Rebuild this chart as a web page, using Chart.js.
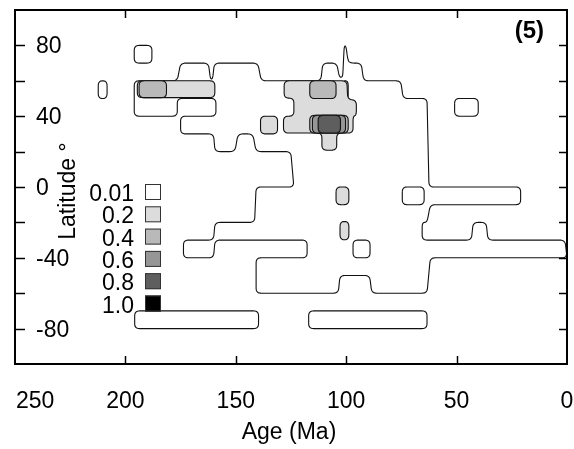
<!DOCTYPE html>
<html>
<head>
<meta charset="utf-8">
<script src="https://cdn.jsdelivr.net/npm/chart.js@4.4.1/dist/chart.umd.min.js"></script>
<style>
  body { margin: 0; background: #fff; }
  canvas { display: block; }
</style>
</head>
<body>
<canvas id="contourChart" width="574" height="449"></canvas>
<script>
const ageTicks = [250, 200, 150, 100, 50, 0];
const latLabels = [80, 40, 0, -40, -80];
const latMarks = [80, 60, 40, 20, 0, -20, -40, -60, -80];
const levelLabels = ["0.01", "0.2", "0.4", "0.6", "0.8", "1.0"];
const levelColors = ["#ffffff", "#dcdcdc", "#b9b9b9", "#969696", "#5e5e5e", "#000000"];

// contour outlines, [age Ma, latitude]
// level 0.01
const outer01 = [
  [196, 60], [176.5, 60], [175, 70], [162.4, 70], [161.5, 61], [160.5, 61], [159.7, 70], [140, 70], [138.5, 60],
  [111.5, 60], [110.6, 70], [104.3, 70], [103.1, 62], [101.6, 62], [100.9, 79.6], [100.1, 79.6], [99.3, 72], [98.3, 70],
  [93.2, 70], [92.1, 60], [75.3, 60], [74.2, 50], [63.4, 50], [62.5, 0], [21, 0], [21, -10], [61.9, -10],
  [63.4, -20], [65.6, -20], [65.6, -30], [43.3, -30], [42.5, -20], [36.6, -20], [35.8, -30], [0.9, -30], [0, -40],
  [61.9, -40], [63.4, -60], [88.4, -60], [89.4, -50], [102.8, -50], [103.6, -60], [140.8, -60], [140.8, -40],
  [117.7, -40], [117.7, -30], [159.4, -30], [160.1, -40], [173.7, -40], [173.7, -30], [160.1, -30], [159.4, -20],
  [141.5, -20], [140.8, 0], [123.7, 0], [125.1, 20], [140.8, 20], [142.3, 30], [149, 30], [150.4, 20], [159.4, 20],
  [160.1, 30], [175, 30], [175, 40], [159, 40], [159, 50], [176.5, 50], [176.5, 40], [196, 40]
];
const box01a = [[196, 80], [188, 80], [188, 70], [196, 70]];
const oval01 = [[212.3, 60], [208.3, 60], [208.3, 50], [212.3, 50]];
const box01b = [[50.9, 50], [40.2, 50], [40.2, 40], [50.9, 40]];
const box01c = [[74.6, 0], [64.7, 0], [64.7, -10], [74.6, -10]];
const box01d = [[96.9, -30], [89.2, -30], [89.2, -40], [96.9, -40]];
const box01e = [[195.8, -70], [139.7, -70], [139.7, -80], [195.8, -80]];
const box01f = [[117, -70], [63.4, -70], [63.4, -80], [117, -80]];

// level 0.2
const strip02 = [[194.6, 60], [159.5, 60], [159.5, 50.5], [194.6, 50.5]];
const blob02 = [
  [128.1, 60], [99.7, 60], [99.3, 49.5], [95.4, 49], [95.4, 40.5], [96.9, 40], [96.9, 30.5],
  [104.3, 30.5], [104.3, 20.8], [111, 20.8], [111, 30.5], [128.4, 30.5], [128.4, 40],
  [123.7, 40], [123.7, 50.2], [128.1, 50.2]
];
const box02a = [[138.8, 40], [131.1, 40], [131.1, 30], [138.8, 30]];
const box02b = [[104.6, 0], [98.8, 0], [98.8, -10], [104.6, -10]];
const box02c = [[102.8, -19.5], [98.8, -19.5], [98.8, -29.8], [102.8, -29.8]];
const oval02 = [[101.6, 60], [99.1, 60], [99.1, 49.3], [101.6, 49.3]];

// level 0.4
const strip04 = [[193.8, 60], [181.4, 60], [181.4, 50.5], [193.8, 50.5]];
const box04a = [[116.5, 60], [104.6, 60], [104.6, 50], [116.5, 50]];
const box04b = [[116.5, 40.5], [99.1, 40.5], [99.1, 30.5], [116.5, 30.5]];

// level 0.6
const box06 = [[115.3, 40.5], [100.3, 40.5], [100.3, 30.5], [115.3, 30.5]];

// level 0.8
const box08 = [[112.7, 40.5], [102.6, 40.5], [102.6, 30.5], [112.7, 30.5]];

const contours = [
  [outer01, 0], [box01a, 0], [oval01, 0], [box01b, 0], [box01c, 0], [box01d, 0], [box01e, 0], [box01f, 0],
  [strip02, 1], [blob02, 1], [box02a, 1], [box02b, 1], [box02c, 1], [oval02, 1],
  [strip04, 2], [box04a, 2], [box04b, 2],
  [box06, 3],
  [box08, 4]
];

// corners of the contours are rounded off a little
const PX_AGE = 2.24, PX_LAT = 1.81, CORNER = 5;
function rounded(poly) {
  const out = [];
  const n = poly.length;
  for (let i = 0; i < n; i++) {
    const p = poly[(i - 1 + n) % n], c = poly[i], q = poly[(i + 1) % n];
    const d1 = Math.hypot((p[0] - c[0]) * PX_AGE, (p[1] - c[1]) * PX_LAT);
    const d2 = Math.hypot((q[0] - c[0]) * PX_AGE, (q[1] - c[1]) * PX_LAT);
    const t1 = Math.min(CORNER, d1 / 2) / d1;
    const t2 = Math.min(CORNER, d2 / 2) / d2;
    const a = [c[0] + (p[0] - c[0]) * t1, c[1] + (p[1] - c[1]) * t1];
    const b = [c[0] + (q[0] - c[0]) * t2, c[1] + (q[1] - c[1]) * t2];
    for (let k = 0; k <= 6; k++) {
      const s = k / 6;
      out.push({
        x: (1 - s) * (1 - s) * a[0] + 2 * (1 - s) * s * c[0] + s * s * b[0],
        y: (1 - s) * (1 - s) * a[1] + 2 * (1 - s) * s * c[1] + s * s * b[1]
      });
    }
  }
  out.push(out[0]);
  return out;
}

const datasets = contours.map(([poly, lvl]) => ({
  data: rounded(poly),
  borderColor: "#111",
  borderWidth: 1.1,
  backgroundColor: levelColors[lvl],
  fill: lvl > 0 ? "shape" : false,
  pointRadius: 0,
  tension: 0.01,
  order: 10 - lvl
}));

const FONT = "'Liberation Sans', Arial, sans-serif";

const decor = {
  id: "decor",
  afterDraw(chart) {
    const { ctx, chartArea: a, scales: { x, y } } = chart;
    ctx.save();
    ctx.strokeStyle = "#000";
    ctx.fillStyle = "#000";

    const line = (x1, y1, x2, y2) => {
      ctx.beginPath();
      ctx.moveTo(x1, y1);
      ctx.lineTo(x2, y2);
      ctx.stroke();
    };

    // tick marks pointing inward, on all four sides
    ctx.lineWidth = 1.5;
    ageTicks.forEach(v => {
      if (v === 0 || v === 250) return;
      const px = Math.round(x.getPixelForValue(v)) + 0.5;
      line(px, a.bottom, px, a.bottom - 8);
      line(px, a.top, px, a.top + 8);
    });
    latMarks.forEach(v => {
      const py = Math.round(y.getPixelForValue(v)) + 0.5;
      line(a.left, py, a.left + 10, py);
      line(a.right, py, a.right - 8, py);
    });

    // frame
    ctx.lineWidth = 2;
    ctx.strokeRect(a.left, a.top, a.right - a.left, a.bottom - a.top);

    // x tick labels
    ctx.font = "23px " + FONT;
    ctx.textBaseline = "alphabetic";
    ageTicks.forEach(v => {
      const px = x.getPixelForValue(v);
      if (v === 250) {
        ctx.textAlign = "left";
        ctx.fillText(String(v), px + 1, 408);
      } else {
        ctx.textAlign = "center";
        ctx.fillText(String(v), px, 408);
      }
    });

    // y tick labels, inside the frame
    ctx.textAlign = "left";
    latLabels.forEach(v => {
      ctx.fillText(String(v), a.left + 21, y.getPixelForValue(v) + 8);
    });

    // axis titles
    ctx.textAlign = "center";
    ctx.fillText("Age (Ma)", 289, 439);
    ctx.save();
    ctx.translate(75, 191);
    ctx.rotate(-Math.PI / 2);
    ctx.fillText("Latitude °", 0, 0);
    ctx.restore();

    // panel label
    ctx.font = "bold 24px " + FONT;
    ctx.textAlign = "right";
    ctx.fillText("(5)", 544, 38);

    // legend
    ctx.font = "23px " + FONT;
    ctx.lineWidth = 1;
    ctx.strokeStyle = "#333";
    levelLabels.forEach((lab, i) => {
      const top = 184 + i * 22.3;
      ctx.fillStyle = levelColors[i];
      ctx.fillRect(145, top, 16, 16);
      ctx.strokeRect(145.5, top + 0.5, 15, 15);
      ctx.fillStyle = "#000";
      ctx.textAlign = "right";
      ctx.fillText(lab, 134, top + 17);
    });
    ctx.restore();
  }
};

new Chart(document.getElementById("contourChart"), {
  type: "line",
  data: { datasets },
  options: {
    responsive: false,
    animation: false,
    devicePixelRatio: 1,
    layout: { padding: { left: 7, right: 7, top: 10, bottom: 77 } },
    scales: {
      x: {
        type: "linear",
        min: 0,
        max: 250,
        reverse: true,
        ticks: { display: false },
        grid: { display: false },
        border: { display: false }
      },
      y: {
        type: "linear",
        min: -100,
        max: 100,
        ticks: { display: false },
        grid: { display: false },
        border: { display: false }
      }
    },
    plugins: {
      legend: { display: false },
      tooltip: { enabled: false }
    }
  },
  plugins: [decor]
});
</script>
</body>
</html>
